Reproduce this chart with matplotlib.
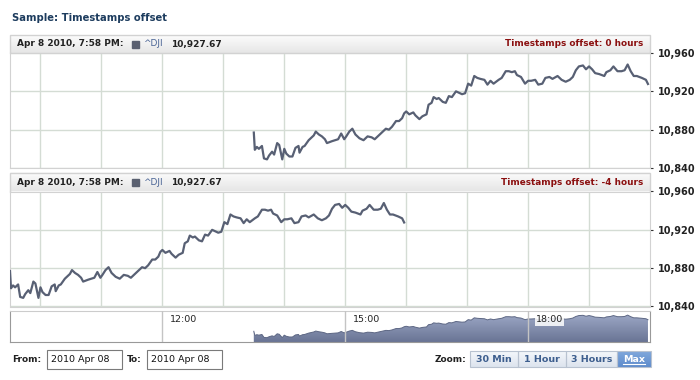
import numpy as np
import matplotlib.pyplot as plt
from matplotlib.patches import Rectangle
from matplotlib.colors import LinearSegmentedColormap

# ^DJI intraday, minutes after the 9:30 (EDT) open
minute = [0, 1, 3, 5, 8, 10, 13, 15, 18, 20, 23, 25, 28, 30, 32, 35, 38, 41, 44, 45,
          48, 50, 54, 56, 59, 61, 64, 67, 70, 72, 77, 83, 86, 89, 91, 94, 97, 100, 104, 108,
          112, 116, 119, 123, 127, 130, 133, 136, 140, 143, 146, 148, 150, 153, 157, 159, 163, 166, 170, 172,
          175, 177, 180, 182, 186, 189, 192, 195, 199, 201, 205, 208, 211, 214, 217, 220, 223, 227, 230, 233,
          236, 241, 244, 248, 251, 254, 257, 259, 263, 267, 270, 273, 277, 280, 284, 287, 291, 294, 299, 303,
          307, 311, 314, 317, 320, 324, 327, 330, 333, 336, 340, 345, 347, 351, 354, 358, 362, 365, 368, 371,
          374, 377, 382, 386, 388]
dji = [10877, 10859, 10862, 10860, 10863, 10850, 10849, 10853, 10857, 10854, 10866, 10864, 10849, 10860, 10855, 10852, 10852, 10861, 10863, 10856,
       10862, 10863, 10869, 10871, 10874, 10878, 10875, 10873, 10870, 10866, 10868, 10870, 10876, 10870, 10873, 10878, 10881, 10875, 10871, 10869,
       10873, 10872, 10870, 10874, 10878, 10881, 10880, 10883, 10889, 10889, 10892, 10897, 10899, 10896, 10898, 10895, 10891, 10894, 10896, 10906,
       10908, 10914, 10912, 10913, 10909, 10908, 10915, 10914, 10920, 10919, 10917, 10918, 10928, 10926, 10936, 10934, 10933, 10932, 10927, 10931,
       10928, 10932, 10934, 10941, 10941, 10940, 10941, 10937, 10935, 10928, 10931, 10931, 10932, 10927, 10928, 10934, 10935, 10933, 10936, 10932,
       10930, 10932, 10935, 10942, 10946, 10947, 10943, 10946, 10943, 10939, 10938, 10936, 10940, 10942, 10946, 10941, 10941, 10942, 10948, 10941,
       10936, 10936, 10934, 10932, 10927.67]

offsets = [0, -4]
offset_labels = ['Timestamps offset: 0 hours', 'Timestamps offset: -4 hours']
y_ticks = [10840, 10880, 10920, 10960]
nav_ticks = [12, 15, 18]
nav_labels = ['12:00', '15:00', '18:00']
zoom_buttons = ['30 Min', '1 Hour', '3 Hours', 'Max']
hover_time = 'Apr 8 2010, 7:58 PM:'
symbol = '^DJI'
last_value = '10,927.67'
date_from = '2010 Apr 08'
date_to = '2010 Apr 08'

open_utc = 13.5            # 9:30 EDT in UTC hours
view = (9.5, 20.0)         # visible window, UTC hours

W, H = 700, 380
fig = plt.figure(figsize=(7, 3.8), dpi=100)
bg = fig.add_axes([0, 0, 1, 1])
bg.axis('off')


def px_axes(x0, y0, x1, y1):
    return fig.add_axes([x0 / W, 1 - y1 / H, (x1 - x0) / W, (y1 - y0) / H])


def gradient(ax, x0, y0, x1, y1, c_top, c_bot):
    cm = LinearSegmentedColormap.from_list('g', [c_top, c_bot])
    ax.imshow(np.linspace(0, 1, 32).reshape(-1, 1), cmap=cm, aspect='auto',
              extent=(x0, x1, y1, y0), zorder=0)


bold = dict(fontweight='bold', fontsize=6.5, color='#222222', va='center')

bg.text(12, 18, 'Sample: Timestamps offset', fontsize=7.2, fontweight='bold',
        color='#1d3c5e', va='center')

hours0 = open_utc + np.array(minute) / 60.0

# two price panels, same time window, data shifted by the offset
panels = [(35, 53, 168), (173, 191.5, 306.5)]
for (head_top, top, bottom), off, lab in zip(panels, offsets, offset_labels):
    gradient(bg, 10, head_top, 650, top, '#fcfcfc', '#e6e6e6')
    bg.add_patch(Rectangle((10, head_top), 640, top - head_top, fill=False,
                           ec='#d2d2d2', lw=1))
    hy = (head_top + top) / 2
    bg.text(17, hy, hover_time, **bold)
    bg.add_patch(Rectangle((132, hy - 3.5), 7, 7, color='#5a6070'))
    bg.text(143, hy, symbol, fontsize=6.5, color='#4a6495', va='center')
    bg.text(171, hy, last_value, **bold)
    bg.text(643, hy, lab, ha='right', fontsize=6.4, fontweight='bold',
            color='#8b1010', va='center')

    ax = px_axes(10, top, 650, bottom)
    ax.plot(hours0 + off, dji, color='#586074', lw=1.6, zorder=3)
    ax.set_xlim(*view)
    ax.set_ylim(10840, 10960)
    ax.set_xticks(np.arange(10, 20))
    ax.tick_params(axis='x', length=0, labelbottom=False)
    ax.set_yticks(y_ticks)
    ax.yaxis.tick_right()
    ax.set_yticklabels([f'{v:,}' for v in y_ticks], fontsize=7,
                       fontweight='bold', color='#222222')
    ax.tick_params(axis='y', length=2.5, width=0.8, pad=3, color='#333333')
    ax.grid(color='#d4dcd4', lw=1)
    for s in ax.spines.values():
        s.set_color('#d2d2d2')

# navigator
nav = px_axes(10, 311, 650, 342)
nav_lo, nav_hi = 10830, 10966
cm = LinearSegmentedColormap.from_list('nav', ['#9aa5c3', '#6a7595'])
poly = nav.fill_between(hours0, dji, nav_lo, color='none')
im = nav.imshow(np.linspace(0, 1, 32).reshape(-1, 1), cmap=cm, aspect='auto',
                extent=(view[0], view[1], nav_lo, max(dji)), zorder=1)
im.set_clip_path(poly.get_paths()[0], transform=nav.transData)
nav.plot(hours0, dji, color='#5d6784', lw=0.7, zorder=2)
nav.set_xlim(*view)
nav.set_ylim(nav_lo, nav_hi)
nav.set_xticks(nav_ticks)
nav.set_yticks([])
nav.tick_params(axis='x', length=0, labelbottom=False)
nav.grid(axis='x', color='#c4c4c4', lw=1, zorder=3)
nav.set_axisbelow(False)
for t, lab in zip(nav_ticks, nav_labels):
    nav.text(t + 0.13, 0.71, lab, transform=nav.get_xaxis_transform(),
             fontsize=6.8, color='#222222', va='center', zorder=4,
             bbox=dict(fc='white', ec='none', pad=0.8, alpha=0.85))
for k, s in nav.spines.items():
    s.set_color('#cccccc' if k == 'top' else '#999999')

# date range inputs
bg.text(12, 359, 'From:', **bold)
bg.add_patch(Rectangle((47, 350), 75, 19, fc='white', ec='#7a7a7a', lw=0.8))
bg.text(51, 359.5, date_from, fontsize=6.8, color='#111111', va='center')
bg.text(127, 359, 'To:', **bold)
bg.add_patch(Rectangle((147, 350), 75, 19, fc='white', ec='#7a7a7a', lw=0.8))
bg.text(151, 359.5, date_to, fontsize=6.8, color='#111111', va='center')

# zoom buttons
bg.text(466, 359, 'Zoom:', ha='right', **bold)
edges = [470, 518, 566, 617, 651]
for i, lab in enumerate(zoom_buttons):
    x0, x1 = edges[i], edges[i + 1]
    active = lab == 'Max'
    if active:
        gradient(bg, x0, 351, x1, 367, '#80a8dc', '#5f8ccc')
    else:
        gradient(bg, x0, 351, x1, 367, '#f4f7fb', '#dde4ee')
    bg.add_patch(Rectangle((x0, 351), x1 - x0, 16, fill=False, ec='#b8c2d0', lw=0.8))
    bg.text((x0 + x1) / 2, 359, lab, ha='center', va='center', fontsize=6.8,
            fontweight='bold', color='white' if active else '#3d5e8e')
    if active:
        bg.plot([x0 + 6, x1 - 6], [364, 364], color='white', lw=0.8)

bg.set_xlim(0, W)
bg.set_ylim(H, 0)
fig.savefig('out.png', dpi=100, facecolor='white')
